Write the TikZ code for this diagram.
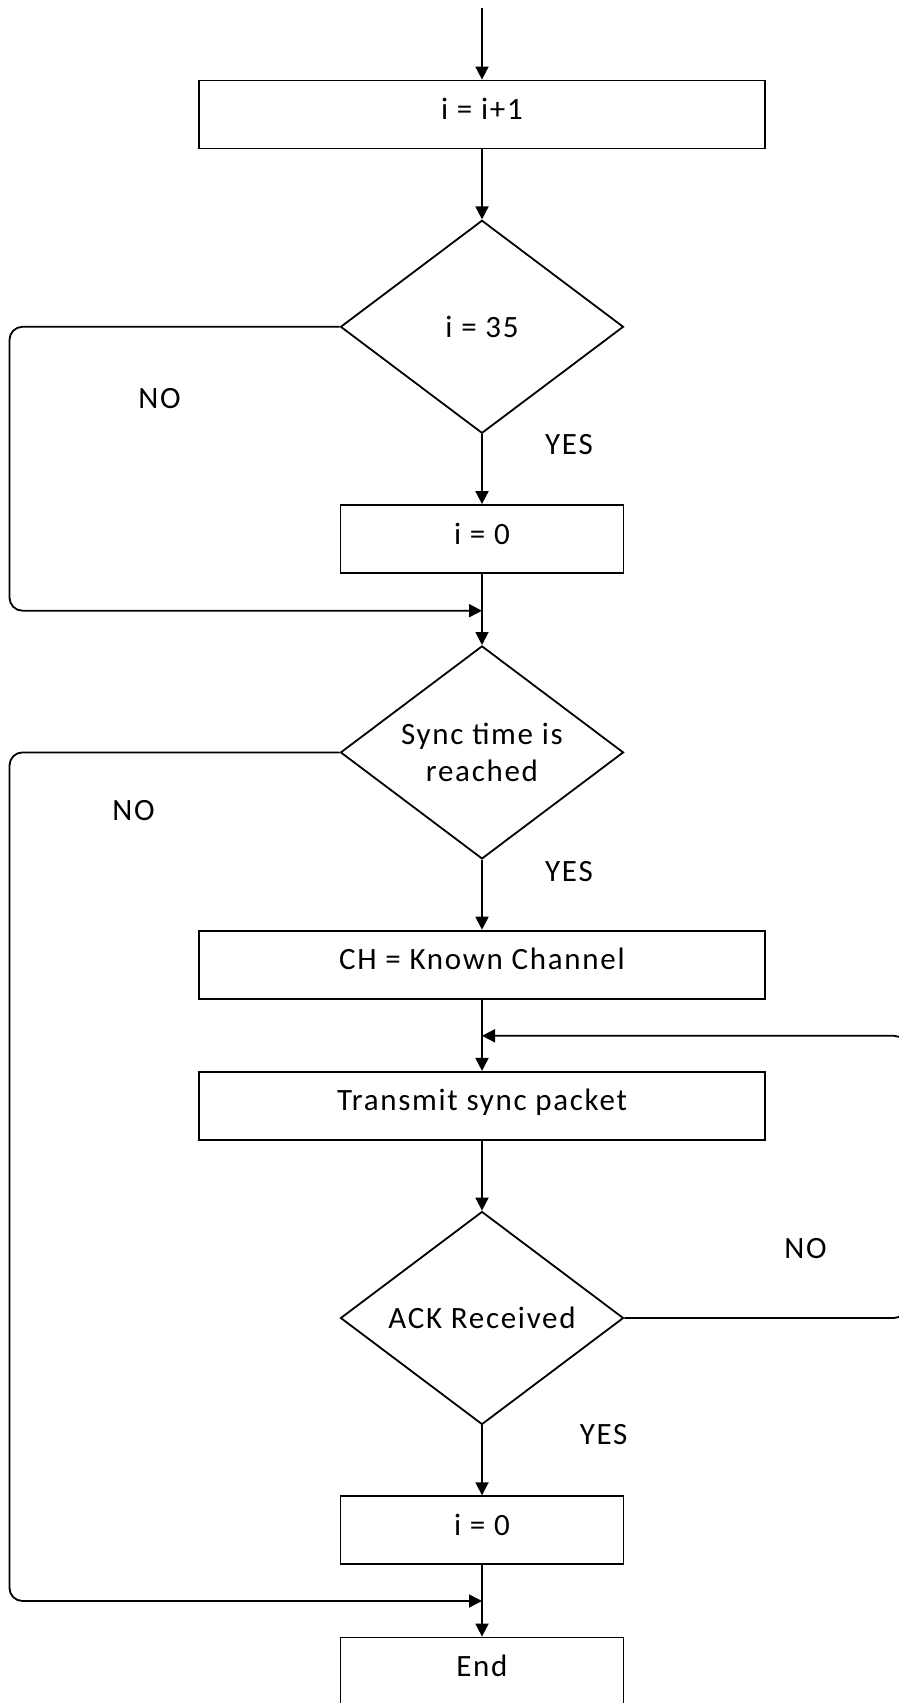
\documentclass[tikz,border=0pt]{standalone}
\usepackage{fontspec}
\setmainfont[LetterSpace=5.5]{Carlito}
\usetikzlibrary{shapes.geometric,arrows.meta}
\begin{document}
\begin{tikzpicture}[x=1pt,y=-1pt,
  every node/.style={font=\fontsize{31}{37}\selectfont},
  line/.style={line width=1.8pt},
  flow/.style={line, -{Triangle[length=13pt,width=13pt]}},
  raised/.style={text height=22pt, text depth=12pt},
  wide/.style={draw, raised, line width=1.8pt, minimum width=566pt, minimum height=68pt, inner sep=0pt},
  narrow/.style={draw, raised, line width=1.8pt, minimum width=283pt, minimum height=68pt, inner sep=0pt},
  decide/.style={draw, line width=1.8pt, shape=diamond, aspect=1.33, minimum width=283pt, minimum height=213pt, inner sep=0pt, align=center},
  lbl/.style={inner sep=0pt}]
\useasboundingbox (0,0) rectangle (899,1703);

% process boxes and decisions
\node[wide]   (inc)   at (482,114.5)  {i = i+1};
\node[decide] (d1)    at (482,326.8)  {i = 35};
\node[narrow] (zero1) at (482,539)    {i = 0};
\node[decide] (d2)    at (482,752.4)  {Sync time is\\reached};
\node[wide]   (ch)    at (482,964.6)  {CH = Known Channel};
\node[wide]   (tx)    at (482,1105.8) {Transmit sync packet};
\node[decide] (d3)    at (482,1318)   {ACK Received};
\node[narrow] (zero2) at (482,1530.2) {i = 0};
\node[narrow] (fin)   at (482,1671.5) {End};

% branch labels
\node[lbl] (no1)  at (159.6,398.5)  {NO};
\node[lbl] (yes1) at (569,445)      {YES};
\node[lbl] (no2)  at (133.5,811)    {NO};
\node[lbl] (yes2) at (569,871.8)    {YES};
\node[lbl] (no3)  at (805.6,1248.5) {NO};
\node[lbl] (yes3) at (603.6,1434.2) {YES};

% junction points
\coordinate (start) at (482,8);
\coordinate (j1) at (482,610.7);
\coordinate (j2) at (482,1035.8);
\coordinate (j3) at (482,1601);

% main flow
\draw[flow] (start) -- (inc.north);
\draw[flow] (inc.south) -- (d1.north);
\draw[flow] (d1.south) -- (zero1.north);
\draw[flow] (zero1.south) -- (d2.north);
\draw[flow] (d2.south) -- (ch.north);
\draw[flow] (ch.south) -- (tx.north);
\draw[flow] (tx.south) -- (d3.north);
\draw[flow] (d3.south) -- (zero2.north);
\draw[flow] (zero2.south) -- (fin.north);

% NO branches
\draw[flow, rounded corners=13pt] (d1.west) -- (9.5,326.8) -- (9.5,610.7) -- (j1);
\draw[flow, rounded corners=13pt] (d2.west) -- (9.5,752.4) -- (9.5,1601) -- (j3);
\draw[flow, rounded corners=13pt] (d3.east) -- (907,1318) -- (907,1035.8) -- (j2);
\end{tikzpicture}
\end{document}
